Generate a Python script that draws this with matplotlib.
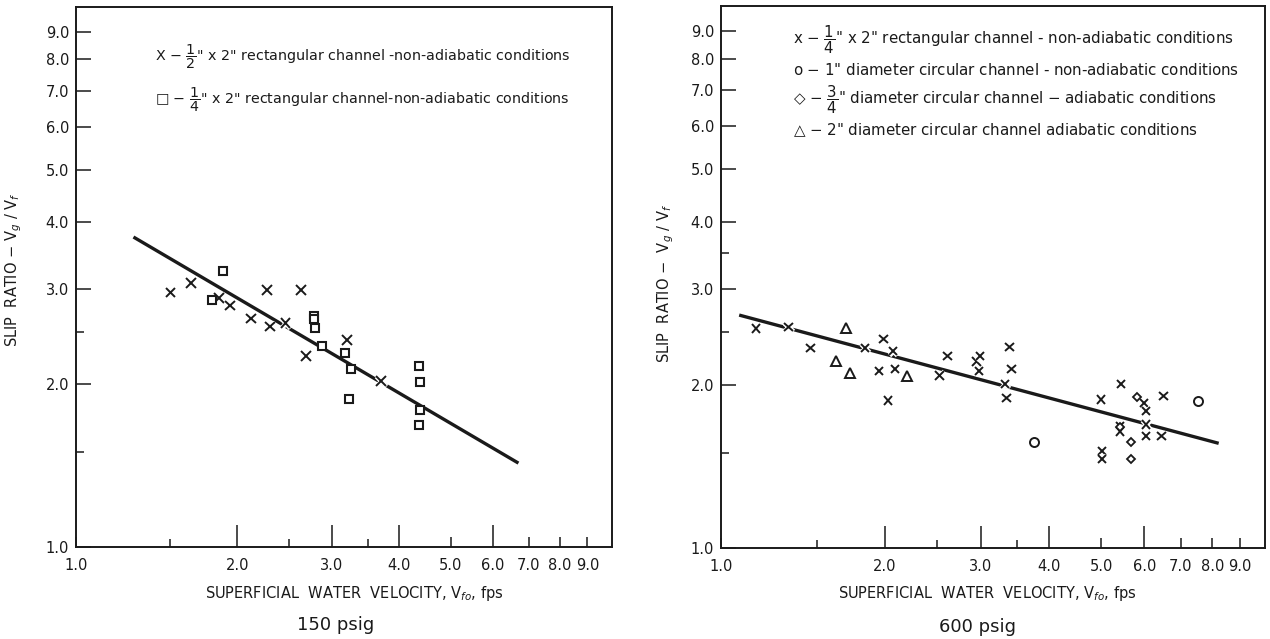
import matplotlib
matplotlib.use("Agg")
import matplotlib.pyplot as plt
import matplotlib.patheffects as pe
from matplotlib.ticker import FixedLocator, NullFormatter

plt.rcParams['font.family'] = ['DejaVu Sans']
plt.rcParams['mathtext.fontset'] = 'dejavusans'

INK = '#1a1a1a'

# ---- 150 psig ----
half_x = [1.50, 1.64, 1.85, 1.94, 2.27, 2.63, 2.12, 2.30, 2.46, 2.69, 3.20, 3.71]
half_y = [2.96, 3.08, 2.89, 2.80, 2.99, 2.99, 2.65, 2.56, 2.60, 2.26, 2.42, 2.03]
quarter_x = [1.88, 1.79, 2.78, 2.78, 2.79, 2.88, 3.17, 3.26, 3.23, 4.37, 4.39, 4.39, 4.37]
quarter_y = [3.25, 2.87, 2.68, 2.64, 2.54, 2.36, 2.29, 2.14, 1.88, 2.16, 2.02, 1.79, 1.68]
fit150_x = [1.28, 6.69]
fit150_y = [3.75, 1.43]

# ---- 600 psig ----
rect_x = [1.16, 1.33, 1.46, 1.84, 1.99, 2.07, 1.95, 2.09, 2.03, 2.52, 2.61, 2.95, 2.99,
          2.98, 3.39, 3.42, 3.33, 3.35, 5.00, 5.43, 5.41, 5.41, 5.01, 5.01, 6.00, 6.05,
          6.05, 6.05, 6.51, 6.45]
rect_y = [2.54, 2.56, 2.34, 2.34, 2.43, 2.31, 2.12, 2.14, 1.87, 2.08, 2.26, 2.21, 2.26,
          2.12, 2.35, 2.14, 2.01, 1.89, 1.88, 2.01, 1.68, 1.64, 1.51, 1.46, 1.85, 1.79,
          1.69, 1.61, 1.91, 1.61]
circ1_x = [3.76, 7.52]
circ1_y = [1.57, 1.87]
circ34_x = [5.81, 5.67, 5.67, 5.41]
circ34_y = [1.90, 1.57, 1.46, 1.67]
circ2_x = [1.70, 1.63, 1.73, 2.20]
circ2_y = [2.55, 2.21, 2.10, 2.08]
fit600_x = [1.08, 8.22]
fit600_y = [2.69, 1.56]

tick_vals = [1, 2, 3, 4, 5, 6, 7, 8, 9]
tick_text = ['1.0', '2.0', '3.0', '4.0', '5.0', '6.0', '7.0', '8.0', '9.0']
long_x = [2, 3, 4, 6]

halo = [pe.withStroke(linewidth=3.5, foreground='white')]


def setup_axes(ax, y_minor):
    ax.set_xscale('log')
    ax.set_yscale('log')
    ax.set_xlim(1, 10)
    ax.set_ylim(1, 10)
    for sp in ax.spines.values():
        sp.set_linewidth(1.4)
        sp.set_color(INK)

    ax.xaxis.set_major_locator(FixedLocator(tick_vals))
    ax.xaxis.set_ticklabels(tick_text)
    ax.xaxis.set_minor_locator(FixedLocator([1.5, 2.5, 3.5]))
    ax.xaxis.set_minor_formatter(NullFormatter())
    ax.yaxis.set_major_locator(FixedLocator(tick_vals))
    ax.yaxis.set_ticklabels(tick_text)
    ax.yaxis.set_minor_locator(FixedLocator(y_minor))
    ax.yaxis.set_minor_formatter(NullFormatter())

    ax.tick_params(axis='x', which='major', direction='in', length=7, width=1.1,
                   pad=8, labelsize=10.5, colors=INK)
    ax.tick_params(axis='x', which='minor', direction='in', length=6, width=1.1, colors=INK)
    ax.tick_params(axis='y', which='major', direction='in', length=11, width=1.1,
                   pad=5, labelsize=10.5, colors=INK)
    ax.tick_params(axis='y', which='minor', direction='in', length=6, width=1.1, colors=INK)
    # the 2, 3, 4 and 6 marks on the velocity scale are drawn longer
    for t, v in zip(ax.xaxis.get_major_ticks(), tick_vals):
        if v in long_x:
            t.tick1line.set_markersize(16)


fig = plt.figure(figsize=(12.7, 6.39), dpi=100)
ax1 = fig.add_axes([76 / 1270, 1 - 547 / 639, 536 / 1270, 540 / 639])
ax2 = fig.add_axes([721 / 1270, 1 - 548 / 639, 544 / 1270, 542 / 639])

# ---- left panel ----
setup_axes(ax1, [1.5, 2.5])
ax1.plot(fit150_x, fit150_y, color=INK, lw=2.4, solid_capstyle='butt', zorder=2)
ax1.plot(half_x, half_y, ls='none', marker='x', ms=7, mew=1.4, color=INK,
         path_effects=halo, zorder=3)
ax1.plot(quarter_x, quarter_y, ls='none', marker='s', ms=6, mew=1.5, mfc='white',
         mec=INK, zorder=3)

ax1.text(0.147, 0.907, r'X $-$ $\dfrac{1}{2}$" x 2" rectangular channel -non-adiabatic conditions',
         transform=ax1.transAxes, fontsize=10.3, va='center', ha='left', color=INK)
ax1.text(0.147, 0.829, '\u25a1' + r' $-$ $\dfrac{1}{4}$" x 2" rectangular channel-non-adiabatic conditions',
         transform=ax1.transAxes, fontsize=10.3, va='center', ha='left', color=INK)

ax1.set_xlabel(r'SUPERFICIAL  WATER  VELOCITY, V$_{fo}$, fps', fontsize=10.5, color=INK)
ax1.xaxis.set_label_coords(0.52, -0.068)
ax1.set_ylabel(r'SLIP  RATIO $-$ V$_g$ / V$_f$', fontsize=10.5, color=INK)
ax1.yaxis.set_label_coords(-0.097, 0.513)
ax1.text(0.485, -0.145, '150 psig', transform=ax1.transAxes, fontsize=13,
         ha='center', va='center', color=INK)

# ---- right panel ----
setup_axes(ax2, [1.5, 2.5, 3.5])
ax2.plot(fit600_x, fit600_y, color=INK, lw=2.4, solid_capstyle='butt', zorder=2)
ax2.plot(rect_x, rect_y, ls='none', marker='x', ms=6, mew=1.4, color=INK,
         path_effects=halo, zorder=3)
ax2.plot(circ1_x, circ1_y, ls='none', marker='o', ms=6.5, mew=1.4, mfc='white',
         mec=INK, zorder=3)
ax2.plot(circ34_x, circ34_y, ls='none', marker='D', ms=4.5, mew=1.3, mfc='white',
         mec=INK, zorder=3)
ax2.plot(circ2_x, circ2_y, ls='none', marker='^', ms=7, mew=1.4, mfc='white',
         mec=INK, zorder=3)

legend_rows = [
    r'x $-$ $\dfrac{1}{4}$" x 2" rectangular channel - non-adiabatic conditions',
    r'o $-$ 1" diameter circular channel - non-adiabatic conditions',
    '\u25c7' + r' $-$ $\dfrac{3}{4}$" diameter circular channel $-$ adiabatic conditions',
    '\u25b3' + r' $-$ 2" diameter circular channel adiabatic conditions',
]
for row, yy in zip(legend_rows, [0.937, 0.882, 0.827, 0.770]):
    ax2.text(0.133, yy, row, transform=ax2.transAxes, fontsize=10.8,
             va='center', ha='left', color=INK)

ax2.set_xlabel(r'SUPERFICIAL  WATER  VELOCITY, V$_{fo}$, fps', fontsize=10.5, color=INK)
ax2.xaxis.set_label_coords(0.49, -0.066)
ax2.set_ylabel(r'SLIP  RATIO $-$  V$_g$ / V$_f$', fontsize=10.5, color=INK)
ax2.yaxis.set_label_coords(-0.082, 0.489)
ax2.text(0.471, -0.145, '600 psig', transform=ax2.transAxes, fontsize=13,
         ha='center', va='center', color=INK)

fig.savefig('out.png', dpi=100)
